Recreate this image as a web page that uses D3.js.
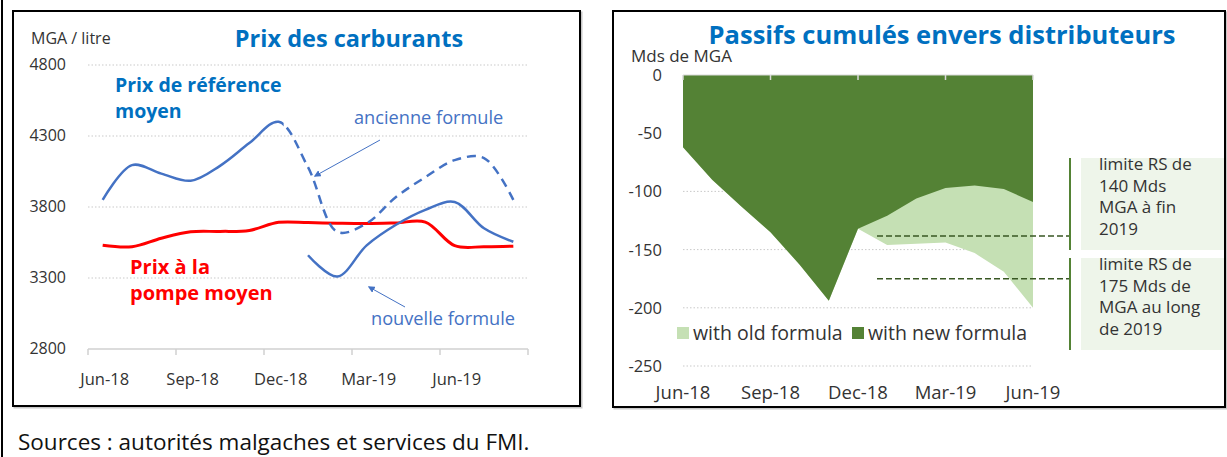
<!DOCTYPE html>
<html>
<head>
<meta charset="utf-8">
<script src="https://cdn.jsdelivr.net/npm/d3@7"></script>
<style>
  body { margin: 0; background: #fff; }
  svg { font-family: "Open Sans", "Noto Sans", sans-serif; }
</style>
</head>
<body>
<div id="graph"></div>
<script>
// Prix des carburants (MGA / litre), monthly Jun-18 .. Aug-19
var months = ["Jun-18", "Jul-18", "Aug-18", "Sep-18", "Oct-18", "Nov-18", "Dec-18",
  "Jan-19", "Feb-19", "Mar-19", "Apr-19", "May-19", "Jun-19", "Jul-19", "Aug-19"];
var refOld = [3850, 4095, 4035, 3985, 4090, 4250, 4400, 4080, 3625, 3685, 3870, 4010, 4130, 4145, 3850];
var refNew = [null, null, null, null, null, null, null, 3460, 3310, 3530, 3675, 3780, 3835, 3650, 3555];
var pumpPrice = [3530, 3520, 3580, 3625, 3628, 3635, 3692, 3690, 3686, 3684, 3688, 3694, 3528, 3520, 3524];
var priceTicks = [2800, 3300, 3800, 4300, 4800];
var quarterLabels = ["Jun-18", "Sep-18", "Dec-18", "Mar-19", "Jun-19"];

// Passifs cumulés envers distributeurs (Mds de MGA), monthly Jun-18 .. Jun-19
var liabMonths = ["Jun-18", "Jul-18", "Aug-18", "Sep-18", "Oct-18", "Nov-18", "Dec-18",
  "Jan-19", "Feb-19", "Mar-19", "Apr-19", "May-19", "Jun-19"];
var oldFormula = [-62, -90, -113, -135, -163, -194, -132, -146, -145, -144, -153, -169, -200];
var newFormula = [-62, -90, -113, -135, -163, -194, -132, -121, -106, -97, -95, -98, -109];
var liabTicks = [0, -50, -100, -150, -200, -250];
var limits = [-140, -175];
var limitNotes = [
  ["limite RS de", "140 Mds", "MGA à fin", "2019"],
  ["limite RS de", "175 Mds de", "MGA au long", "de 2019"]
];

var blue = "#0070C0", lineBlue = "#4472C4", darkGreen = "#548235", lightGreen = "#C5E0B4";

var svg = d3.select("#graph").append("svg")
    .attr("width", 1227)
    .attr("height", 457);

var defs = svg.append("defs");
defs.append("marker")
    .attr("id", "arrow")
    .attr("viewBox", "0 0 10 10")
    .attr("refX", 8).attr("refY", 5)
    .attr("markerWidth", 7).attr("markerHeight", 7)
    .attr("orient", "auto")
  .append("path")
    .attr("d", "M0,0L10,5L0,10z")
    .attr("fill", lineBlue);

// outer frame line and panels
svg.append("line")
    .attr("x1", 2).attr("x2", 2).attr("y1", 0).attr("y2", 457)
    .attr("stroke", "#000").attr("stroke-width", 2);

drawPanel(13, 11, 567, 395);
drawPanel(613, 11, 612, 396);

svg.append("text")
    .attr("x", 18).attr("y", 450)
    .attr("font-size", 22.5).attr("fill", "#111")
    .text("Sources : autorités malgaches et services du FMI.");

renderPriceChart();
renderLiabilitiesChart();

function drawPanel(x, y, w, h) {
  svg.append("rect")
      .attr("x", x + 1.5).attr("y", y + 1.5).attr("width", w).attr("height", h)
      .attr("fill", "none").attr("stroke", "#c8c8c8").attr("stroke-width", 2);
  svg.append("rect")
      .attr("x", x).attr("y", y).attr("width", w).attr("height", h)
      .attr("fill", "#fff").attr("stroke", "#000").attr("stroke-width", 2);
}

function renderPriceChart() {
  var x = d3.scaleLinear().domain([-0.5, 14.5]).range([88, 528]);
  var y = d3.scaleLinear().domain([2800, 4800]).range([349, 65]);
  var g = svg.append("g");

  g.selectAll(".grid")
      .data(priceTicks.slice(1))
    .enter().append("line")
      .attr("x1", x.range()[0]).attr("x2", x.range()[1])
      .attr("y1", function(d) { return y(d); }).attr("y2", function(d) { return y(d); })
      .attr("stroke", "#c9c9c9").attr("stroke-dasharray", "1.5,2");

  g.selectAll(".ytick")
      .data(priceTicks)
    .enter().append("text")
      .attr("x", 66).attr("y", function(d) { return y(d) + 5; })
      .attr("text-anchor", "end").attr("font-size", 16).attr("fill", "#333")
      .text(function(d) { return d; });

  // x axis with ticks between quarters
  g.append("line")
      .attr("x1", x.range()[0]).attr("x2", x.range()[1])
      .attr("y1", y(2800)).attr("y2", y(2800))
      .attr("stroke", "#d0d0d0").attr("stroke-width", 1.5);
  g.selectAll(".xtick")
      .data(d3.range(-0.5, 15, 3))
    .enter().append("line")
      .attr("x1", function(d) { return x(d); }).attr("x2", function(d) { return x(d); })
      .attr("y1", y(2800)).attr("y2", y(2800) + 6)
      .attr("stroke", "#d0d0d0").attr("stroke-width", 1.5);
  g.selectAll(".xlabel")
      .data(quarterLabels)
    .enter().append("text")
      .attr("x", function(d) { return x(months.indexOf(d)) + 2; })
      .attr("y", 385)
      .attr("text-anchor", "middle").attr("font-size", 16.5).attr("fill", "#333")
      .text(function(d) { return d; });

  var line = d3.line()
      .defined(function(d) { return d != null; })
      .x(function(d, i) { return x(i); })
      .y(function(d) { return y(d); })
      .curve(d3.curveCatmullRom.alpha(0.5));

  // old formula: solid up to Dec-18, dashed after
  var cut = x(6) + 5;
  defs.append("clipPath").attr("id", "clipSolid")
    .append("rect").attr("x", 0).attr("y", 0).attr("width", cut).attr("height", 457);
  defs.append("clipPath").attr("id", "clipDash")
    .append("rect").attr("x", cut).attr("y", 0).attr("width", 600).attr("height", 457);

  g.append("path")
      .attr("d", line(pumpPrice))
      .attr("fill", "none").attr("stroke", "#FF0000").attr("stroke-width", 3);
  g.append("path")
      .attr("d", line(refOld))
      .attr("clip-path", "url(#clipSolid)")
      .attr("fill", "none").attr("stroke", lineBlue).attr("stroke-width", 2.5);
  g.append("path")
      .attr("d", line(refOld))
      .attr("clip-path", "url(#clipDash)")
      .attr("fill", "none").attr("stroke", lineBlue).attr("stroke-width", 2.5)
      .attr("stroke-dasharray", "9,6");
  g.append("path")
      .attr("d", line(refNew))
      .attr("fill", "none").attr("stroke", lineBlue).attr("stroke-width", 2.5);

  g.append("text")
      .attr("x", 31).attr("y", 44).attr("font-size", 16).attr("fill", "#333")
      .text("MGA / litre");
  g.append("text")
      .attr("x", 349).attr("y", 47).attr("text-anchor", "middle")
      .attr("font-size", 23.5).attr("font-weight", "bold").attr("fill", blue)
      .text("Prix des carburants");

  var refLabel = g.append("text")
      .attr("font-size", 19.5).attr("font-weight", "bold").attr("fill", blue);
  refLabel.append("tspan").attr("x", 115).attr("y", 92).text("Prix de référence");
  refLabel.append("tspan").attr("x", 115).attr("y", 118).text("moyen");

  var pumpLabel = g.append("text")
      .attr("font-size", 20).attr("font-weight", "bold").attr("fill", "#FF0000");
  pumpLabel.append("tspan").attr("x", 130).attr("y", 274).text("Prix à la");
  pumpLabel.append("tspan").attr("x", 130).attr("y", 300).text("pompe moyen");

  g.append("text")
      .attr("x", 354).attr("y", 124).attr("font-size", 18.2).attr("fill", lineBlue)
      .text("ancienne formule");
  g.append("text")
      .attr("x", 371).attr("y", 325).attr("font-size", 18.2).attr("fill", lineBlue)
      .text("nouvelle formule");

  // pointer arrows
  g.append("line")
      .attr("x1", 380).attr("y1", 140).attr("x2", 315).attr("y2", 176)
      .attr("stroke", lineBlue).attr("stroke-width", 1)
      .attr("marker-end", "url(#arrow)");
  g.append("line")
      .attr("x1", 405).attr("y1", 307).attr("x2", 369).attr("y2", 287)
      .attr("stroke", lineBlue).attr("stroke-width", 1)
      .attr("marker-end", "url(#arrow)");
}

function renderLiabilitiesChart() {
  var x = d3.scaleLinear().domain([0, 12]).range([683, 1033]);
  var y = d3.scaleLinear().domain([-250, 0]).range([366, 75]);
  var g = svg.append("g");

  g.selectAll(".grid")
      .data(liabTicks.slice(1))
    .enter().append("line")
      .attr("x1", x.range()[0]).attr("x2", x.range()[1])
      .attr("y1", function(d) { return y(d); }).attr("y2", function(d) { return y(d); })
      .attr("stroke", "#c9c9c9").attr("stroke-dasharray", "1.5,2");

  g.selectAll(".ytick")
      .data(liabTicks)
    .enter().append("text")
      .attr("x", 662).attr("y", function(d) { return y(d) + 6; })
      .attr("text-anchor", "end").attr("font-size", 16.5).attr("fill", "#333")
      .text(function(d) { return d; });

  var area = d3.area()
      .x(function(d, i) { return x(i); })
      .y0(y(0))
      .y1(function(d) { return y(d); });

  g.append("path").attr("d", area(oldFormula)).attr("fill", lightGreen);
  g.append("path").attr("d", area(newFormula)).attr("fill", darkGreen);

  // axis at zero with quarter ticks
  g.append("line")
      .attr("x1", x.range()[0]).attr("x2", x.range()[1])
      .attr("y1", y(0)).attr("y2", y(0))
      .attr("stroke", "#d9d9d9").attr("stroke-width", 1);
  g.selectAll(".xtick")
      .data(d3.range(0, 13, 3))
    .enter().append("line")
      .attr("x1", function(d) { return x(d); }).attr("x2", function(d) { return x(d); })
      .attr("y1", y(0)).attr("y2", y(0) + 5)
      .attr("stroke", "#d9d9d9").attr("stroke-width", 1.5);
  g.selectAll(".xlabel")
      .data(quarterLabels)
    .enter().append("text")
      .attr("x", function(d) { return x(liabMonths.indexOf(d)); })
      .attr("y", 399)
      .attr("text-anchor", "middle").attr("font-size", 18.5).attr("fill", "#333")
      .text(function(d) { return d; });

  g.append("text")
      .attr("x", 942).attr("y", 44).attr("text-anchor", "middle")
      .attr("font-size", 25.5).attr("font-weight", "bold").attr("fill", blue)
      .text("Passifs cumulés envers distributeurs");
  g.append("text")
      .attr("x", 631).attr("y", 62).attr("font-size", 17).attr("fill", "#333")
      .text("Mds de MGA");

  // legend
  var legend = [["with old formula", lightGreen, 677], ["with new formula", darkGreen, 852]];
  legend.forEach(function(l) {
    g.append("rect").attr("x", l[2]).attr("y", 327).attr("width", 12).attr("height", 12).attr("fill", l[1]);
    g.append("text").attr("x", l[2] + 16).attr("y", 340).attr("font-size", 19.5).attr("fill", "#333").text(l[0]);
  });

  // limit annotations
  var boxes = [[158, 250], [258, 350]];
  limits.forEach(function(v, i) {
    var ly = y(v) + (i === 0 ? -2 : 0);
    g.append("line")
        .attr("x1", 877).attr("x2", 1069).attr("y1", ly).attr("y2", ly)
        .attr("stroke", "#385723").attr("stroke-width", 1.5).attr("stroke-dasharray", "6,3");
    g.append("rect")
        .attr("x", 1081).attr("y", boxes[i][0]).attr("width", 143).attr("height", boxes[i][1] - boxes[i][0])
        .attr("fill", "#EEF5EA");
    g.append("line")
        .attr("x1", 1070).attr("x2", 1070).attr("y1", boxes[i][0]).attr("y2", boxes[i][1])
        .attr("stroke", darkGreen).attr("stroke-width", 2);
    var t = g.append("text").attr("font-size", 17).attr("fill", "#333");
    limitNotes[i].forEach(function(s, j) {
      t.append("tspan").attr("x", 1099).attr("y", boxes[i][0] + 12 + j * 21.5).text(s);
    });
  });
}
</script>
</body>
</html>
